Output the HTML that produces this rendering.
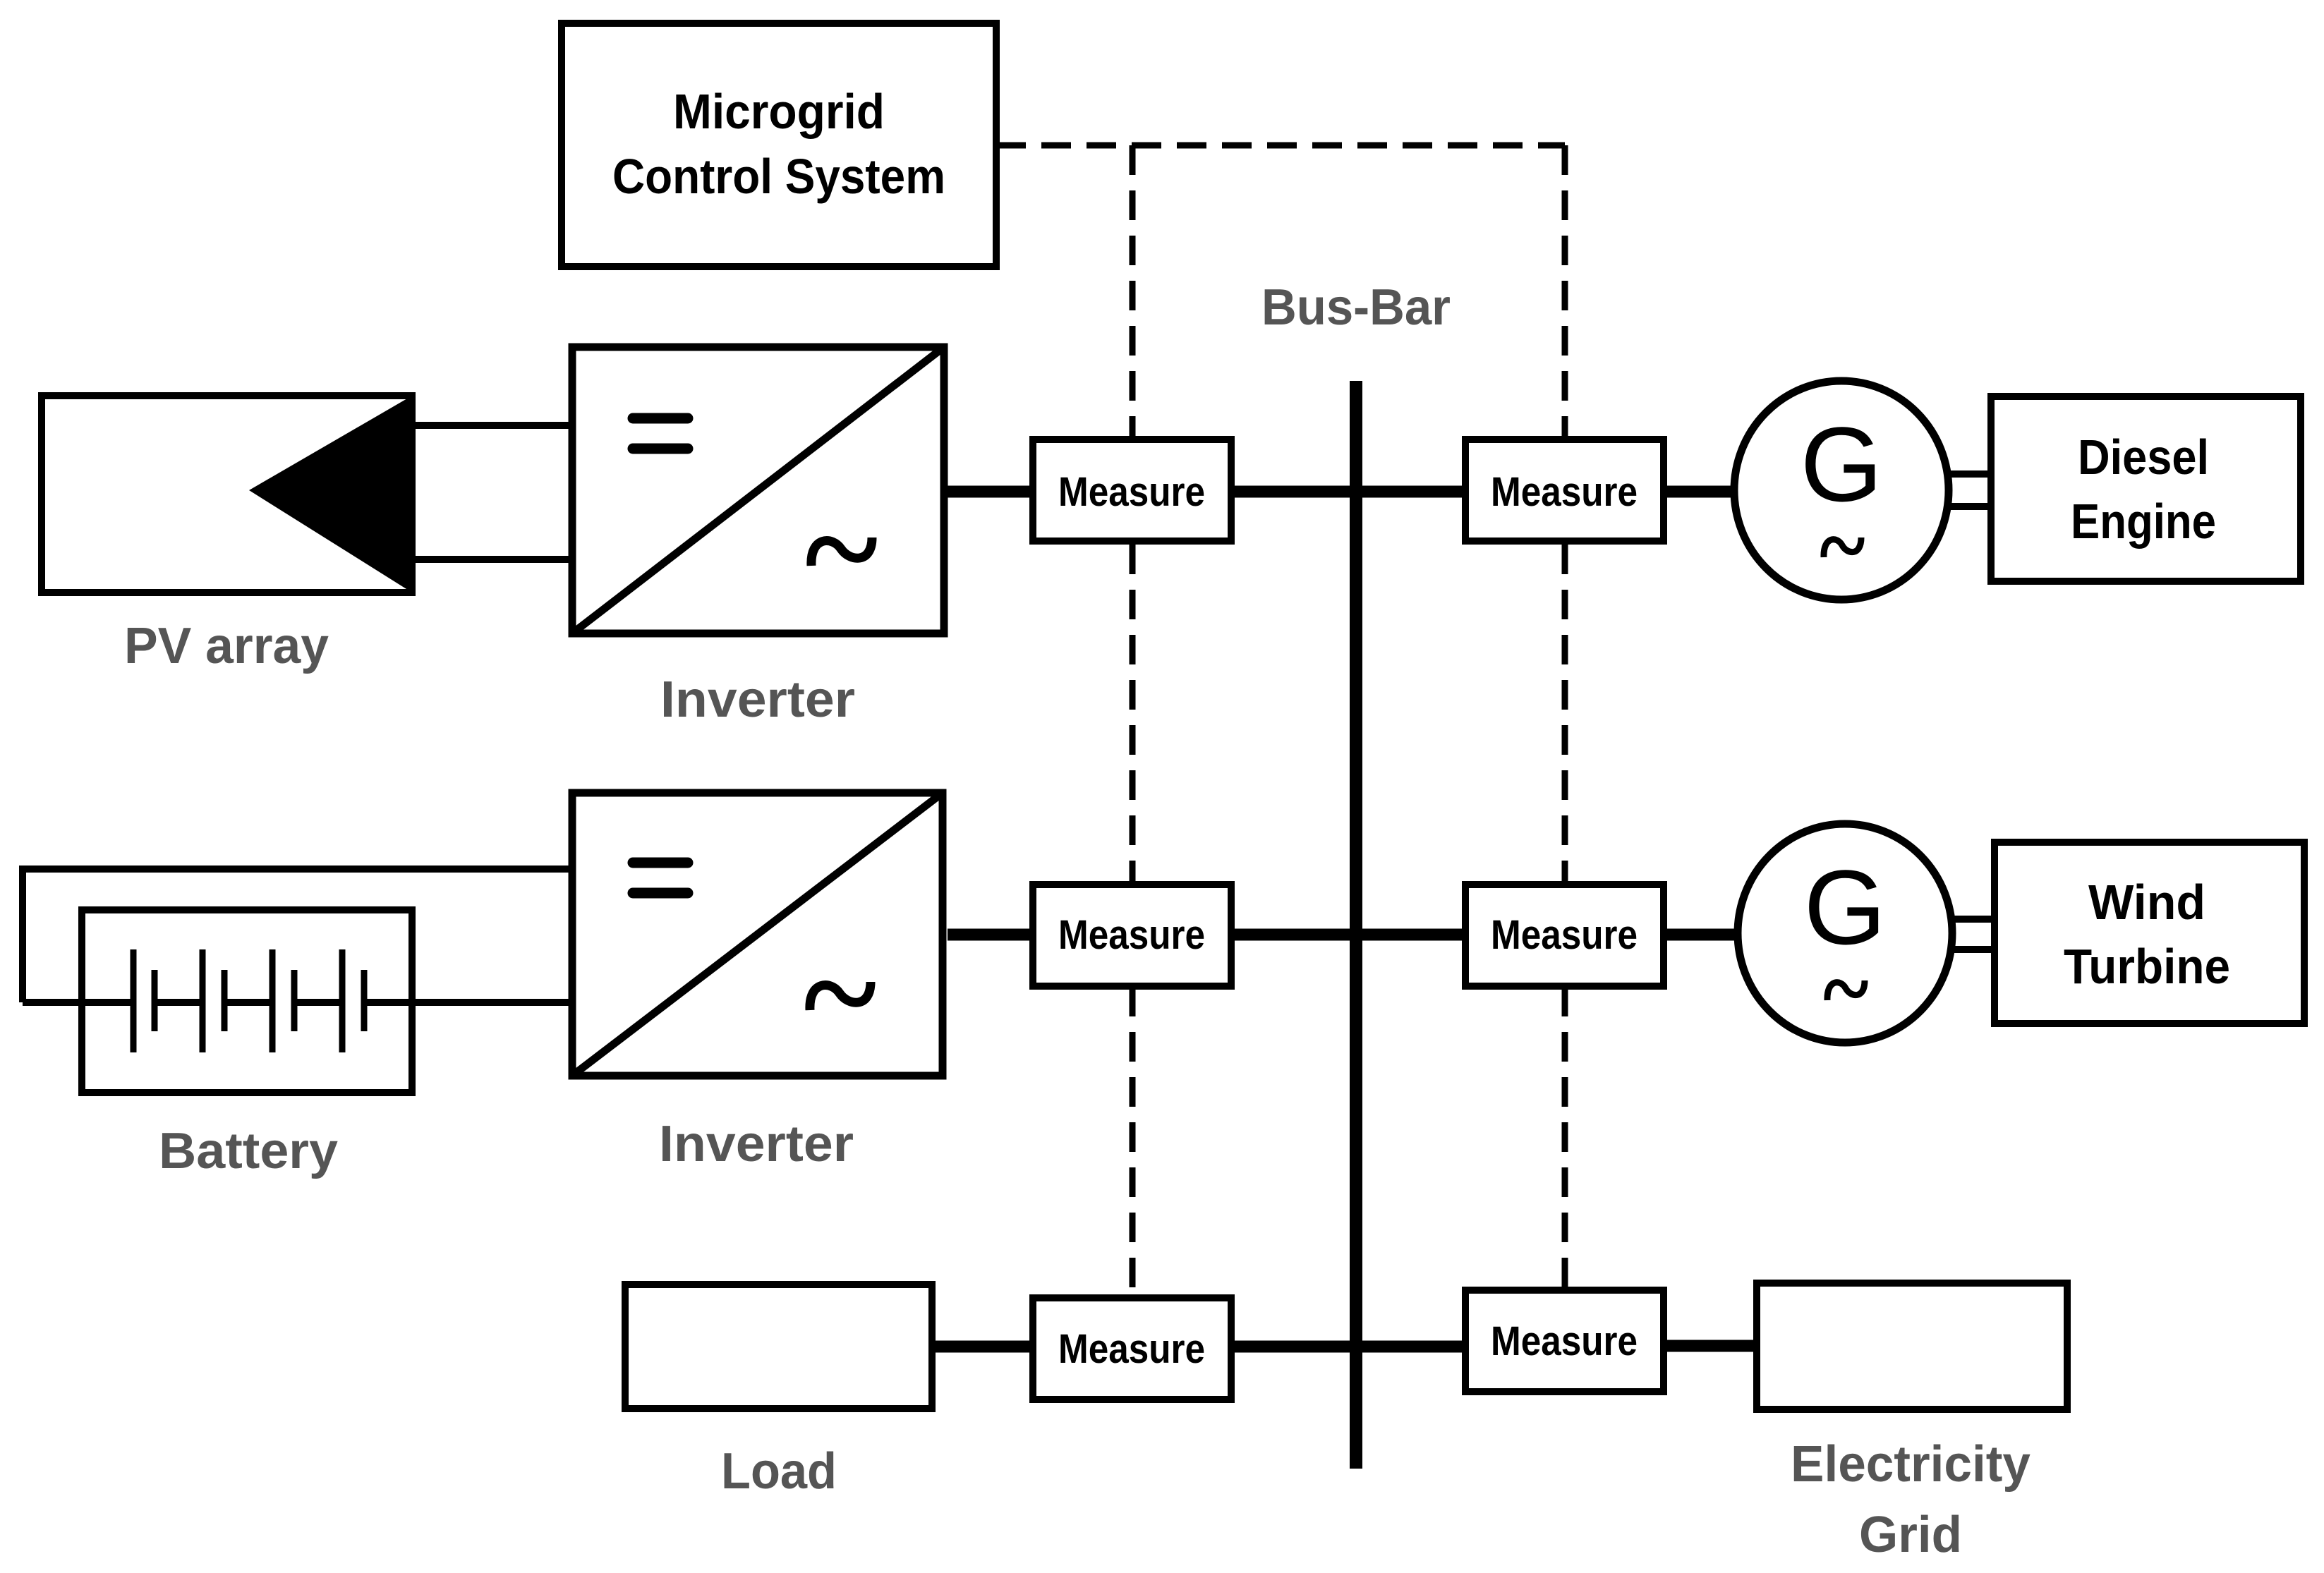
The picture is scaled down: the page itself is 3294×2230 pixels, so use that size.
<!DOCTYPE html>
<html><head><meta charset="utf-8"><style>
html,body{margin:0;padding:0;background:#fff;}
svg{display:block;}
text{font-family:"Liberation Sans",sans-serif;font-weight:bold;}
</style></head><body>
<svg width="3294" height="2230" viewBox="0 0 3294 2230" xmlns="http://www.w3.org/2000/svg">
<rect width="3294" height="2230" fill="#fff"/>
<g fill="none" stroke="#000">
<rect x="796" y="33" width="616" height="345" stroke-width="10"/>
<g stroke-width="9" stroke-dasharray="42,22">
<path d="M1412 206 H2218"/>
<path d="M1605 206 V622"/>
<path d="M2218 206 V622"/>
<path d="M1605 772 V1252"/>
<path d="M2218 772 V1252"/>
<path d="M1605 1399 V1838"/>
<path d="M2218 1399 V1827"/>
</g>
<path d="M1922 540 V2082" stroke-width="18"/>
<g stroke-width="17">
<path d="M1343 697 H1460"/>
<path d="M1749 697 H2075"/>
<path d="M2358 697 H2456"/>
<path d="M1343 1325 H1460"/>
<path d="M1749 1325 H2075"/>
<path d="M2358 1325 H2460"/>
<path d="M1325 1909 H1460"/>
<path d="M1749 1909 H2075"/>
<path d="M2358 1908 H2486"/>
</g>
<g stroke-width="10">
<rect x="1464" y="623" width="281" height="144"/>
<rect x="2077" y="623" width="281" height="144"/>
<rect x="1464" y="1254" width="281" height="144"/>
<rect x="2077" y="1254" width="281" height="144"/>
<rect x="1464" y="1840" width="281" height="144"/>
<rect x="2077" y="1829" width="281" height="144"/>
</g>
<rect x="59" y="561" width="525" height="279" stroke-width="10"/>
<path d="M584 603 H806 M584 793 H806" stroke-width="10"/>
<g stroke-width="11">
<rect x="811" y="492" width="527" height="406"/>
<path d="M811 898 L1338 492"/>
<rect x="811" y="1124" width="525" height="401"/>
<path d="M811 1525 L1336 1124"/>
</g>
<g stroke-width="15" stroke-linecap="round">
<path d="M897 593 H975 M897 636 H975"/>
<path d="M897 1223 H975 M897 1266 H975"/>
</g>
<g stroke-width="13">
<path d="M1150 802 C1148 760 1180 760 1192 778 C1204 796 1236 800 1236 762"/>
<path d="M1148 1432 C1146 1390 1178 1390 1190 1408 C1202 1426 1234 1430 1234 1392"/>
</g>
<rect x="116" y="1290" width="468" height="259" stroke-width="10"/>
<path d="M32 1421 V1232 H811 M32 1421 H189 M584 1421 H811" stroke-width="10"/>
<path d="M219 1421 H287 M318 1421 H386 M417 1421 H485 M516 1421 H584" stroke-width="10"/>
<g stroke-width="9">
<path d="M189 1346 V1492 M287 1346 V1492 M386 1346 V1492 M485 1346 V1492"/>
<path d="M219 1375 V1462 M318 1375 V1462 M417 1375 V1462 M516 1375 V1462"/>
</g>
<ellipse cx="2610" cy="695" rx="152" ry="155" stroke-width="11"/>
<ellipse cx="2615" cy="1323" rx="152" ry="155" stroke-width="11"/>
<path d="M2762 672 H2820 M2762 718 H2820" stroke-width="10"/>
<path d="M2767 1303 H2825 M2767 1346 H2825" stroke-width="10"/>
<rect x="2822" y="562" width="439" height="262" stroke-width="10"/>
<rect x="2827" y="1194" width="439" height="257" stroke-width="10"/>
<g stroke-width="9">
<path d="M2585 790 C2584 760 2604 760 2611 773 C2618 786 2638 789 2638 762"/>
<path d="M2590 1418 C2589 1388 2609 1388 2616 1401 C2623 1414 2643 1417 2643 1390"/>
</g>
<rect x="886" y="1821" width="435" height="176" stroke-width="10"/>
<rect x="2490" y="1819" width="440" height="179" stroke-width="10"/>
</g>
<g fill="#000" text-anchor="middle">
<text x="1104" y="182" font-size="70" textLength="300" lengthAdjust="spacingAndGlyphs">Microgrid</text>
<text x="1104" y="274" font-size="70" textLength="472" lengthAdjust="spacingAndGlyphs">Control System</text>
<g font-size="58">
<text x="1604" y="717" textLength="208" lengthAdjust="spacingAndGlyphs">Measure</text>
<text x="2217" y="717" textLength="208" lengthAdjust="spacingAndGlyphs">Measure</text>
<text x="1604" y="1345" textLength="208" lengthAdjust="spacingAndGlyphs">Measure</text>
<text x="2217" y="1345" textLength="208" lengthAdjust="spacingAndGlyphs">Measure</text>
<text x="1604" y="1932" textLength="208" lengthAdjust="spacingAndGlyphs">Measure</text>
<text x="2217" y="1921" textLength="208" lengthAdjust="spacingAndGlyphs">Measure</text>
</g>
<text x="3038" y="672" font-size="70" textLength="186" lengthAdjust="spacingAndGlyphs">Diesel</text>
<text x="3038" y="763" font-size="70" textLength="206" lengthAdjust="spacingAndGlyphs">Engine</text>
<text x="3043" y="1303" font-size="70" textLength="166" lengthAdjust="spacingAndGlyphs">Wind</text>
<text x="3043" y="1394" font-size="70" textLength="236" lengthAdjust="spacingAndGlyphs">Turbine</text>
<text x="2610" y="710" font-size="150" style="font-weight:normal">G</text>
<text x="2615" y="1338" font-size="150" style="font-weight:normal">G</text>
</g>
<g fill="#555" text-anchor="middle" font-size="72">
<text x="1922" y="460" textLength="268" lengthAdjust="spacingAndGlyphs">Bus-Bar</text>
<text x="321" y="940" textLength="290" lengthAdjust="spacingAndGlyphs">PV array</text>
<text x="1074" y="1016" textLength="276" lengthAdjust="spacingAndGlyphs">Inverter</text>
<text x="1072" y="1646" textLength="276" lengthAdjust="spacingAndGlyphs">Inverter</text>
<text x="352" y="1656" textLength="254" lengthAdjust="spacingAndGlyphs">Battery</text>
<text x="1104" y="2110" textLength="164" lengthAdjust="spacingAndGlyphs">Load</text>
<text x="2708" y="2100" textLength="340" lengthAdjust="spacingAndGlyphs">Electricity</text>
<text x="2708" y="2200" textLength="146" lengthAdjust="spacingAndGlyphs">Grid</text>
</g>
<polygon points="353,695 584,561 584,840" fill="#000"/>
</svg>
</body></html>
